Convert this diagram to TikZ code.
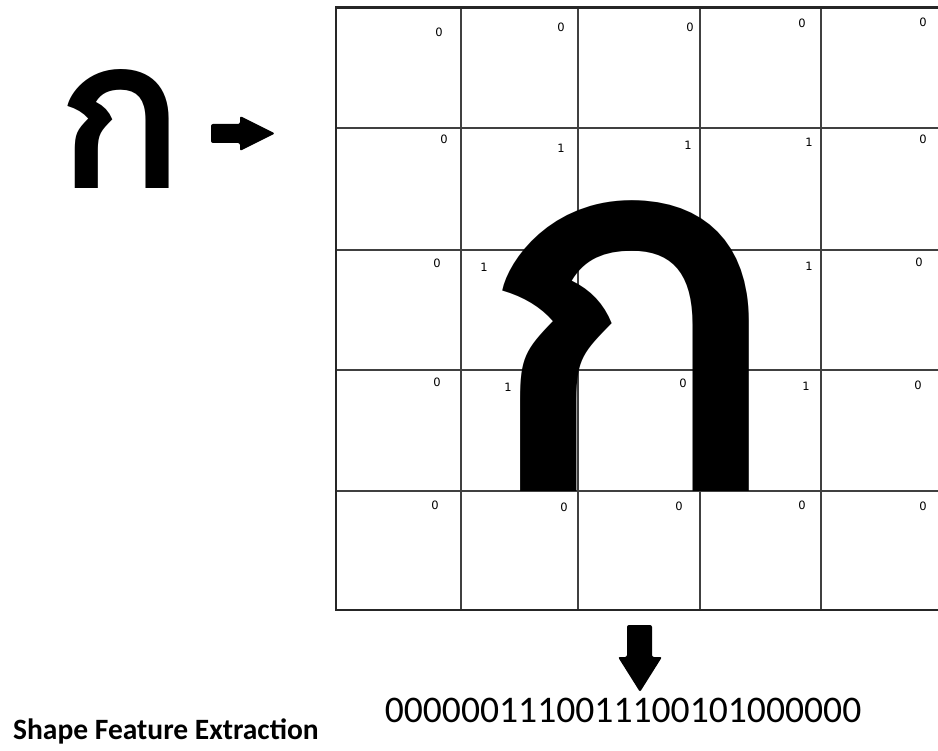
\documentclass[tikz,border=0pt]{standalone}
\usepackage{fontspec}
\setmainfont{Carlito}
\newfontfamily\thaifont[Script=Thai]{Loma}
\newfontfamily\cellfont{DejaVu Sans}
\tikzset{
  gridline/.style={draw=black!75, line width=1.3pt},
  frameline/.style={draw=black!85, line width=2pt},
  topline/.style={draw=black!85, line width=3pt},
  cellnum/.style={inner sep=0pt, font=\cellfont\fontsize{11.5}{12}\selectfont},
  blockarrow/.style={fill=black, rounded corners=2pt},
  glyph/.style={inner sep=0pt, anchor=north west}
}
\begin{document}
\begin{tikzpicture}[x=1pt,y=-1pt]
\useasboundingbox (0,0) rectangle (938,751);
% grid
\foreach \yy in {128,250,370,491}{\draw[gridline] (336,\yy) -- (938,\yy);}
\foreach \xx in {461,578,700,821}{\draw[gridline] (\xx,8) -- (\xx,610);}
\draw[frameline] (336,8) -- (336,610) -- (938,610);
\draw[topline] (335,8) -- (938,8);
% glyphs
\node[glyph] (smallka) at (55,69) {\resizebox{130pt}{119pt}{\thaifont\bfseries ก}};
\node[glyph] (bigka) at (472,200) {\resizebox{316pt}{290pt}{\thaifont\bfseries ก}};
% cell values
\node[cellnum] (c11) at (439,32) {0};
\node[cellnum] (c12) at (561,27) {0};
\node[cellnum] (c13) at (690,27) {0};
\node[cellnum] (c14) at (802,23) {0};
\node[cellnum] (c15) at (923,22) {0};
\node[cellnum] (c21) at (444,139) {0};
\node[cellnum] (c22) at (561,148) {1};
\node[cellnum] (c23) at (688,145) {1};
\node[cellnum] (c24) at (809,142) {1};
\node[cellnum] (c25) at (923,139) {0};
\node[cellnum] (c31) at (437,263) {0};
\node[cellnum] (c32) at (484,267) {1};
\node[cellnum] (c33) at (686,272) {1};
\node[cellnum] (c34) at (809,266) {1};
\node[cellnum] (c35) at (919,262) {0};
\node[cellnum] (c41) at (437,382) {0};
\node[cellnum] (c42) at (508,387) {1};
\node[cellnum] (c43) at (683,383) {0};
\node[cellnum] (c44) at (806,386) {1};
\node[cellnum] (c45) at (918,385) {0};
\node[cellnum] (c51) at (435,505) {0};
\node[cellnum] (c52) at (564,507) {0};
\node[cellnum] (c53) at (679,506) {0};
\node[cellnum] (c54) at (802,505) {0};
\node[cellnum] (c55) at (923,506) {0};
% arrows
\fill[blockarrow] (211,124) -- (240,124) -- (240,116) -- (275,133.5) -- (240,151) -- (240,143) -- (211,143) -- cycle;
\fill[blockarrow] (627,625) -- (652,625) -- (652,657) -- (662,657) -- (640,692) -- (618,657) -- (627,657) -- cycle;
% texts
\node[inner sep=0pt, anchor=base west, font=\bfseries\fontsize{29.5}{30}\selectfont] (title) at (13,739) {Shape Feature Extraction};
\node[inner sep=0pt, anchor=base, font=\fontsize{37.6}{40}\selectfont] (code) at (623,722) {0000001110011100101000000};
\end{tikzpicture}
\end{document}
